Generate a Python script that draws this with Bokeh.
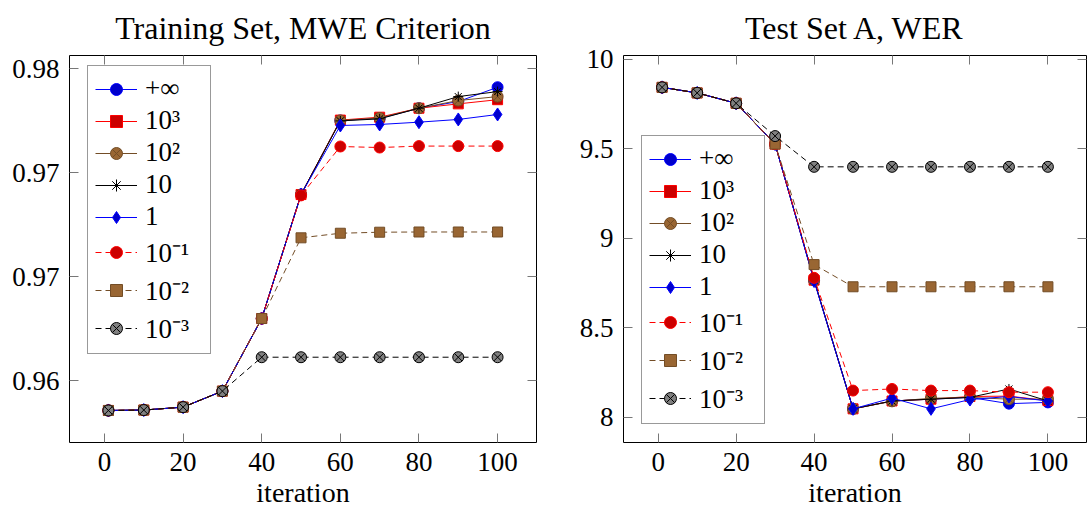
from bokeh.plotting import figure
from bokeh.layouts import row
from bokeh.models import FixedTicker, LinearAxis, Range1d, CustomLabelingPolicy
from bokeh.embed import file_html
from bokeh.resources import INLINE

iterations = [1, 10, 20, 30, 40, 50, 60, 70, 80, 90, 100]
legend_labels = ["+∞", "10³", "10²", "10", "1", "10⁻¹", "10⁻²", "10⁻³"]

# Training set, MWE criterion
train_inf  = [0.96356, 0.96358, 0.96372, 0.96449, 0.96798, 0.97394, 0.97750, 0.97760, 0.97809, 0.97841, 0.97910]
train_1e3  = [0.96356, 0.96358, 0.96372, 0.96449, 0.96798, 0.97394, 0.97752, 0.97766, 0.97809, 0.97830, 0.97850]
train_1e2  = [0.96356, 0.96358, 0.96372, 0.96449, 0.96798, 0.97394, 0.97750, 0.97762, 0.97809, 0.97846, 0.97865]
train_10   = [0.96356, 0.96358, 0.96372, 0.96449, 0.96798, 0.97394, 0.97748, 0.97758, 0.97809, 0.97865, 0.97889]
train_1    = [0.96356, 0.96358, 0.96372, 0.96449, 0.96798, 0.97394, 0.97726, 0.97731, 0.97742, 0.97755, 0.97779]
train_1em1 = [0.96356, 0.96358, 0.96372, 0.96449, 0.96798, 0.97390, 0.97625, 0.97620, 0.97627, 0.97627, 0.97627]
train_1em2 = [0.96356, 0.96358, 0.96372, 0.96449, 0.96798, 0.97186, 0.97208, 0.97213, 0.97214, 0.97214, 0.97214]
train_1em3 = [0.96356, 0.96358, 0.96372, 0.96449, 0.96612, 0.96612, 0.96612, 0.96612, 0.96612, 0.96612, 0.96612]

# Test set A, WER
test_inf  = [9.842, 9.811, 9.753, 9.525, 8.765, 8.046, 8.090, 8.100, 8.110, 8.075, 8.082]
test_1e3  = [9.842, 9.811, 9.753, 9.525, 8.765, 8.046, 8.090, 8.100, 8.115, 8.117, 8.092]
test_1e2  = [9.842, 9.811, 9.753, 9.525, 8.765, 8.046, 8.088, 8.105, 8.110, 8.100, 8.100]
test_10   = [9.842, 9.811, 9.753, 9.525, 8.765, 8.046, 8.090, 8.100, 8.110, 8.157, 8.090]
test_1    = [9.842, 9.811, 9.753, 9.525, 8.760, 8.046, 8.106, 8.046, 8.098, 8.115, 8.090]
test_1em1 = [9.842, 9.811, 9.753, 9.525, 8.778, 8.148, 8.157, 8.148, 8.148, 8.139, 8.139]
test_1em2 = [9.842, 9.811, 9.753, 9.525, 8.852, 8.728, 8.728, 8.728, 8.728, 8.728, 8.728]
test_1em3 = [9.842, 9.811, 9.753, 9.570, 9.398, 9.398, 9.398, 9.398, 9.398, 9.398, 9.398]

x_ticks = [0, 20, 40, 60, 80, 100]
train_ticks = [0.965, 0.970, 0.975, 0.980]
train_tick_labels = ["0.96", "0.97", "0.97", "0.98"]
test_ticks = [8, 8.5, 9, 9.5, 10]
test_tick_labels = ["8", "8.5", "9", "9.5", "10"]

BROWN_LINE = "#734d26"
BROWN_FILL = "#996633"
styles = [
    dict(line="#0000ff", fill="#0000cc", edge="#0000ff", marker="circle", size=11, dash="solid"),
    dict(line="#ff0000", fill="#cc0000", edge="#ff0000", marker="square", size=10, dash="solid"),
    dict(line=BROWN_LINE, fill=BROWN_FILL, edge=BROWN_LINE, marker="circle_x", size=11, dash="solid"),
    dict(line="#000000", fill="#000000", edge="#000000", marker="asterisk", size=10, dash="solid"),
    dict(line="#0000ff", fill="#0000cc", edge="#0000ff", marker="diamond", size=13, dash="solid"),
    dict(line="#ff0000", fill="#cc0000", edge="#ff0000", marker="circle", size=11, dash="6 4"),
    dict(line=BROWN_LINE, fill=BROWN_FILL, edge=BROWN_LINE, marker="square", size=10, dash="6 4"),
    dict(line="#000000", fill="#808080", edge="#000000", marker="circle_x", size=11, dash="6 4"),
]

FONT = "Liberation Serif"


def mirror_axis(ticks):
    return LinearAxis(ticker=FixedTicker(ticks=ticks), major_label_text_font_size="1px",
                      major_label_policy=CustomLabelingPolicy(code="return []"),
                      major_label_standoff=0, major_tick_in=9, major_tick_out=0,
                      major_tick_line_color="#777777", minor_tick_line_color=None,
                      axis_line_color=None)


def make_fig(title, series, y_start, y_end, yticks, ylabels, width, border_left, border_right, legend_xy):
    p = figure(width=width, height=511, output_backend="svg", toolbar_location=None,
               x_range=Range1d(-8.9, 109.9), y_range=Range1d(y_start, y_end),
               min_border_left=border_left, min_border_right=border_right,
               min_border_top=55, min_border_bottom=69)
    p.title.text = title
    p.title.align = "center"
    p.title.text_font = FONT
    p.title.text_font_size = "32px"
    p.title.text_font_style = "normal"
    p.title.text_color = "#000000"
    p.title.standoff = 12
    p.grid.visible = False
    p.outline_line_color = "#000000"
    p.outline_line_width = 1
    p.outline_line_alpha = 1
    p.background_fill_color = "white"
    p.border_fill_color = "white"

    for label, ys, st in zip(legend_labels, series, styles):
        p.line(iterations, ys, line_color=st["line"], line_width=1, line_dash=st["dash"],
               legend_label=label)
        p.scatter(iterations, ys, marker=st["marker"], size=st["size"], fill_color=st["fill"],
                  line_color=st["edge"], line_width=1, legend_label=label)

    xa = p.xaxis[0]
    xa.ticker = FixedTicker(ticks=x_ticks)
    xa.axis_label = "iteration"
    xa.axis_label_text_font = FONT
    xa.axis_label_text_font_size = "28px"
    xa.axis_label_text_font_style = "normal"
    xa.axis_label_text_color = "#000000"
    xa.axis_label_standoff = 3
    xa.major_label_standoff = 10

    ya = p.yaxis[0]
    ya.ticker = FixedTicker(ticks=yticks)
    ya.major_label_overrides = {t: l for t, l in zip(yticks, ylabels)}
    ya.major_label_standoff = 10

    for ax in (xa, ya):
        ax.major_label_text_font = FONT
        ax.major_label_text_font_size = "27px"
        ax.major_label_text_color = "#000000"
        ax.major_tick_in = 9
        ax.major_tick_out = 0
        ax.major_tick_line_color = "#777777"
        ax.minor_tick_line_color = None
        ax.axis_line_color = None

    p.add_layout(mirror_axis(x_ticks), "above")
    p.add_layout(mirror_axis(yticks), "right")

    lg = p.legend[0]
    lg.location = legend_xy
    lg.margin = 0
    lg.padding = 7
    lg.spacing = 1
    lg.glyph_width = 42
    lg.glyph_height = 30
    lg.label_height = 30
    lg.label_width = 58
    lg.label_standoff = 8
    lg.label_text_font = FONT
    lg.label_text_font_size = "27px"
    lg.label_text_color = "#000000"
    lg.border_line_color = "#333333"
    lg.border_line_width = 1
    lg.background_fill_alpha = 1
    return p


p1 = make_fig("Training Set, MWE Criterion",
              [train_inf, train_1e3, train_1e2, train_10, train_1, train_1em1, train_1em2, train_1em3],
              0.96202, 0.980625, train_ticks, train_tick_labels, 560, 69, 24, (18, 88))
p2 = make_fig("Test Set A, WER",
              [test_inf, test_1e3, test_1e2, test_10, test_1, test_1em1, test_1em2, test_1em3],
              7.858, 10.02, test_ticks, test_tick_labels, 530, 63, 1, (18, 18))

layout = row(p1, p2)
open("out.html", "w").write(file_html(layout, INLINE))
